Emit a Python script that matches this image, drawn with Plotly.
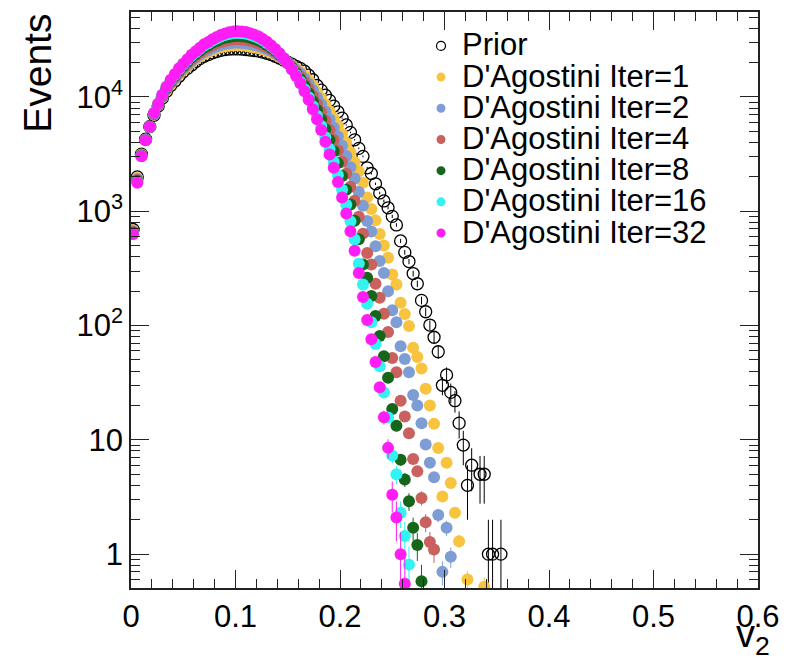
import numpy as np
import plotly.graph_objects as go

# ------------------------------------------------------------------
# Data; v2 histogram, bin width 0.004
# ------------------------------------------------------------------
BIN_WIDTH = 0.004
N_BINS = 89
v2_bin_centers = [round((i + 0.5) * BIN_WIDTH, 4) for i in range(N_BINS)]

prior_counts = [
    692, 1995, 3162, 4266, 5495, 6918, 8318, 9772, 11220, 12590,
    13800, 15140, 16600, 17780, 19050, 20420, 21630, 22650, 23440, 24270,
    24950, 25530, 25940, 26180, 26300, 26300, 26180, 25940, 25700, 25410,
    25120, 24660, 24100, 23440, 22700, 21880, 21040, 20180, 19360, 18540,
    17780, 16790, 15490, 14130, 12590, 11480, 10350, 9333, 8318, 7413,
    6531, 5689, 4898, 4217, 3548, 3020, 2399, 2138, 1738, 1445,
    1230, 1072, 902, 759, 550, 437, 363, 285, 232, 166,
    132, 101, 79, 59, 30, 37, 26, 22, 14, 9,
    4, 6, None, 5, 5, 1, 1, None, 1,
]

iter1_counts = [
    679, 1950, 3133, 4246, 5495, 6982, 8395, 9908, 11430, 12880,
    14190, 15630, 17140, 18450, 19860, 21280, 22590, 23770, 24660, 25640,
    26490, 27160, 27670, 27990, 28180, 28250, 28120, 27860, 27540, 27100,
    26670, 26000, 25230, 24380, 23390, 22340, 21180, 20090, 18970, 17820,
    16750, 15490, 14030, 12560, 10990, 9772, 8570, 7499, 6486, 5585,
    4742, 3981, 3289, 2698, 2239, 1778, 1318, 1047, 832, 631,
    501, 391, 280, 229, 158, 126, 99, 64, 53, 42,
    28, 20, 13.8, 8.5, 3.2, 6.3, 4.2, 2.3, 1.3, None,
    0.6, None, None, None, 0.52,
]

iter2_counts = [
    670, 1919, 3112, 4236, 5495, 7031, 8453, 10000, 11590, 13120,
    14490, 16030, 17580, 18970, 20510, 21980, 23330, 24660, 25590, 26730,
    27670, 28440, 29040, 29440, 29720, 29790, 29650, 29380, 28970, 28440,
    27860, 27040, 26180, 25180, 23930, 22650, 21330, 20000, 18620, 17300,
    16030, 14590, 13030, 11480, 9931, 8650, 7447, 6368, 5383, 4508,
    3733, 3048, 2427, 1932, 1476, 1119, 822, 665, 494, 367,
    288, 200, 136, 107, 66, 51, 39, 24.7, 20, 14,
    9.1, 6.3, 4.7, 2.2, 0.7, 1.7, 0.95,
]

iter4_counts = [
    658, 1875, 3083, 4217, 5495, 7096, 8531, 10160, 11800, 13430,
    14890, 16560, 18160, 19680, 21380, 22910, 24380, 25880, 26980, 28250,
    29310, 30270, 30900, 31550, 31840, 31990, 31840, 31550, 30970, 30340,
    29510, 28510, 27350, 26060, 24600, 23120, 21480, 19860, 18240, 16630,
    15100, 13460, 11800, 10210, 8670, 7379, 6180, 5129, 4198, 3404,
    2710, 2133, 1641, 1233, 893, 637, 432, 342, 232, 175,
    127, 88, 52, 39, 22, 16, 11.4, 6.8, 5.3, 3.1,
    1.9, 1.28, 1.1,
]

iter8_counts = [
    647, 1837, 3055, 4198, 5495, 7161, 8610, 10280, 11990, 13710,
    15280, 17020, 18660, 20370, 22180, 23770, 25350, 27040, 28180, 29720,
    30900, 32060, 32890, 33500, 33960, 34120, 33960, 33570, 32960, 32140,
    31190, 29920, 28510, 26920, 25290, 23550, 21680, 19770, 17910, 16030,
    14290, 12500, 10790, 9162, 7674, 6383, 5212, 4207, 3350, 2636,
    2032, 1545, 1146, 826, 568, 342, 262, 181, 121, 81,
    54, 35, 18.6, 13.3, 6.7, 4.5, 2.9, 1.7, 1.2, 0.58,
]

iter16_counts = [
    637, 1799, 3034, 4178, 5495, 7211, 8670, 10400, 12190, 13960,
    15630, 17500, 19190, 20990, 22960, 24600, 26360, 28180, 29440, 31120,
    32510, 33810, 34750, 35480, 36060, 36310, 36140, 35730, 34910, 33960,
    32730, 31330, 29650, 27860, 25940, 23930, 21780, 19680, 17580, 15560,
    13580, 11690, 9931, 8299, 6839, 5559, 4446, 3499, 2716, 2075,
    1545, 1140, 817, 565, 347, 229, 155, 107, 69, 44,
    26, 15.7, 7.3, 5.0, 2.3, 1.44, 0.81,
]

iter32_counts = [
    631, 1778, 3020, 4169, 5495, 7244, 8710, 10470, 12300, 14130,
    15850, 17780, 19500, 21380, 23440, 25120, 26920, 28840, 30200, 31990,
    33500, 34830, 35890, 36730, 37330, 37580, 37410, 36980, 36140, 35080,
    33730, 32140, 30340, 28380, 26300, 24150, 21880, 19630, 17380, 15240,
    13180, 11220, 9441, 7816, 6383, 5129, 4046, 3141, 2399, 1799,
    1318, 955, 668, 452, 288, 178, 112, 75.9, 47.9, 28.8,
    15.8, 8.51, 3.31, 2.09, 1.0, 0.55,
]

series_names = ["Prior", "D'Agostini Iter=1", "D'Agostini Iter=2", "D'Agostini Iter=4",
                "D'Agostini Iter=8", "D'Agostini Iter=16", "D'Agostini Iter=32"]
series_values = [prior_counts, iter1_counts, iter2_counts, iter4_counts,
                 iter8_counts, iter16_counts, iter32_counts]
series_colors = ["#000000", "#f8c43f", "#7f9dd5", "#c9615f", "#15661a", "#33f2f2", "#ff1df5"]
# relative size of the statistical error bars (unfolding errors grow with iterations)
series_err_scale = [1.0, 0.15, 0.2, 0.25, 0.3, 0.4, 0.55]

x_tick_vals = [0, 0.1, 0.2, 0.3, 0.4, 0.5, 0.6]
x_tick_text = ["0", "0.1", "0.2", "0.3", "0.4", "0.5", "0.6"]
y_tick_vals = [1, 10, 100, 1000, 10000]
y_tick_text = ["1", "10", "10<sup>2</sup>", "10<sup>3</sup>", "10<sup>4</sup>"]

# ------------------------------------------------------------------
# Layout geometry (page pixels; the page body has an 8px margin)
# ------------------------------------------------------------------
OFF = 8
W, H = 790 - 2 * OFF, 669 - 2 * OFF
PL, PR, PT, PB = 131, 760, 10, 588          # plot frame in page pixels
ML, MT = PL - OFF, PT - OFF
MR = (OFF + W) - PR
MB = (OFF + H) - PB
FONT = "Liberation Sans, Arial, Helvetica, sans-serif"
AXC = "#222222"


def xp(px):
    return (px - PL) / (PR - PL)


def yp(py):
    return (PB - py) / (PB - PT)


fig = go.Figure()

for i, (name, vals, color, ks) in enumerate(zip(series_names, series_values,
                                                 series_colors, series_err_scale)):
    xs = v2_bin_centers[:len(vals)]
    plus = [0 if v is None else ks * np.sqrt(v) for v in vals]
    minus = [0 if v is None else min(ks * np.sqrt(v), 0.999 * v) for v in vals]
    if i == 0:
        marker = dict(symbol="circle-open", size=12, color="black",
                      line=dict(width=1.3, color="black"))
    else:
        marker = dict(symbol="circle", size=12, color=color, line=dict(width=0))
    fig.add_trace(go.Scatter(
        x=xs, y=vals, mode="markers", name=name, showlegend=False,
        marker=marker,
        error_y=dict(type="data", array=plus, arrayminus=minus, symmetric=False,
                     thickness=1, width=0, color=color),
    ))

# minor tick positions for the log axis
minor_log = [m * 10 ** e for e in range(-1, 5) for m in range(2, 10)]
minor_log = [v for v in minor_log if 0.5 < v < 55000]

fig.update_layout(
    width=W, height=H,
    margin=dict(l=ML, r=MR, t=MT, b=MB),
    paper_bgcolor="white", plot_bgcolor="white",
    font=dict(family=FONT, color="black"),
    xaxis=dict(
        range=[0, 0.6], tickmode="array", tickvals=x_tick_vals, ticktext=x_tick_text,
        ticks="inside", ticklen=18, tickwidth=1.3, tickcolor=AXC,
        minor=dict(tickmode="array", tickvals=[round(0.02 * j, 2) for j in range(31)],
                   ticks="inside", ticklen=9, tickwidth=1, tickcolor=AXC, showgrid=False),
        showline=True, linecolor=AXC, linewidth=1.6, mirror="ticks",
        showgrid=False, zeroline=False,
        tickfont=dict(size=31, family=FONT, color="black"),
    ),
    yaxis=dict(
        type="log", range=[-0.296, 4.743], tickmode="array",
        tickvals=y_tick_vals, ticktext=y_tick_text,
        ticks="inside", ticklen=18, tickwidth=1.3, tickcolor=AXC,
        minor=dict(tickmode="array", tickvals=minor_log, ticks="inside", ticklen=9,
                   tickwidth=1, tickcolor=AXC, showgrid=False),
        showline=True, linecolor=AXC, linewidth=1.6, mirror="ticks",
        showgrid=False, zeroline=False,
        tickfont=dict(size=31, family=FONT, color="black"),
    ),
)

# axis titles (ROOT style: at the end of the axes)
fig.add_annotation(text="Events", textangle=-90, xref="paper", yref="paper",
                   x=xp(37), y=yp(10), xanchor="center", yanchor="top",
                   showarrow=False, font=dict(size=39, family=FONT, color="black"))
fig.add_annotation(text="v<sub>2</sub>", xref="paper", yref="paper",
                   x=xp(774), y=yp(611), xanchor="right", yanchor="top",
                   showarrow=False, font=dict(size=38, family=FONT, color="black"))

# legend (upper right, ROOT TLegend style)
row0, drow = 44, 31.3
for i, (name, color) in enumerate(zip(series_names, series_colors)):
    ry = row0 + i * drow
    if i == 0:
        fig.add_shape(type="circle", xref="paper", yref="paper",
                      xsizemode="pixel", ysizemode="pixel",
                      xanchor=xp(442), yanchor=yp(ry), x0=-4.5, x1=4.5, y0=-4.5, y1=4.5,
                      line=dict(color="black", width=1.2), fillcolor="rgba(0,0,0,0)")
    else:
        fig.add_shape(type="circle", xref="paper", yref="paper",
                      xsizemode="pixel", ysizemode="pixel",
                      xanchor=xp(442), yanchor=yp(ry), x0=-4.5, x1=4.5, y0=-4.5, y1=4.5,
                      line=dict(width=0), fillcolor=color)
    fig.add_annotation(text=name, xref="paper", yref="paper",
                       x=xp(461), y=yp(ry - 1), xanchor="left", yanchor="middle",
                       showarrow=False, font=dict(size=31, family=FONT, color="black"))

fig.write_html("out.html")
